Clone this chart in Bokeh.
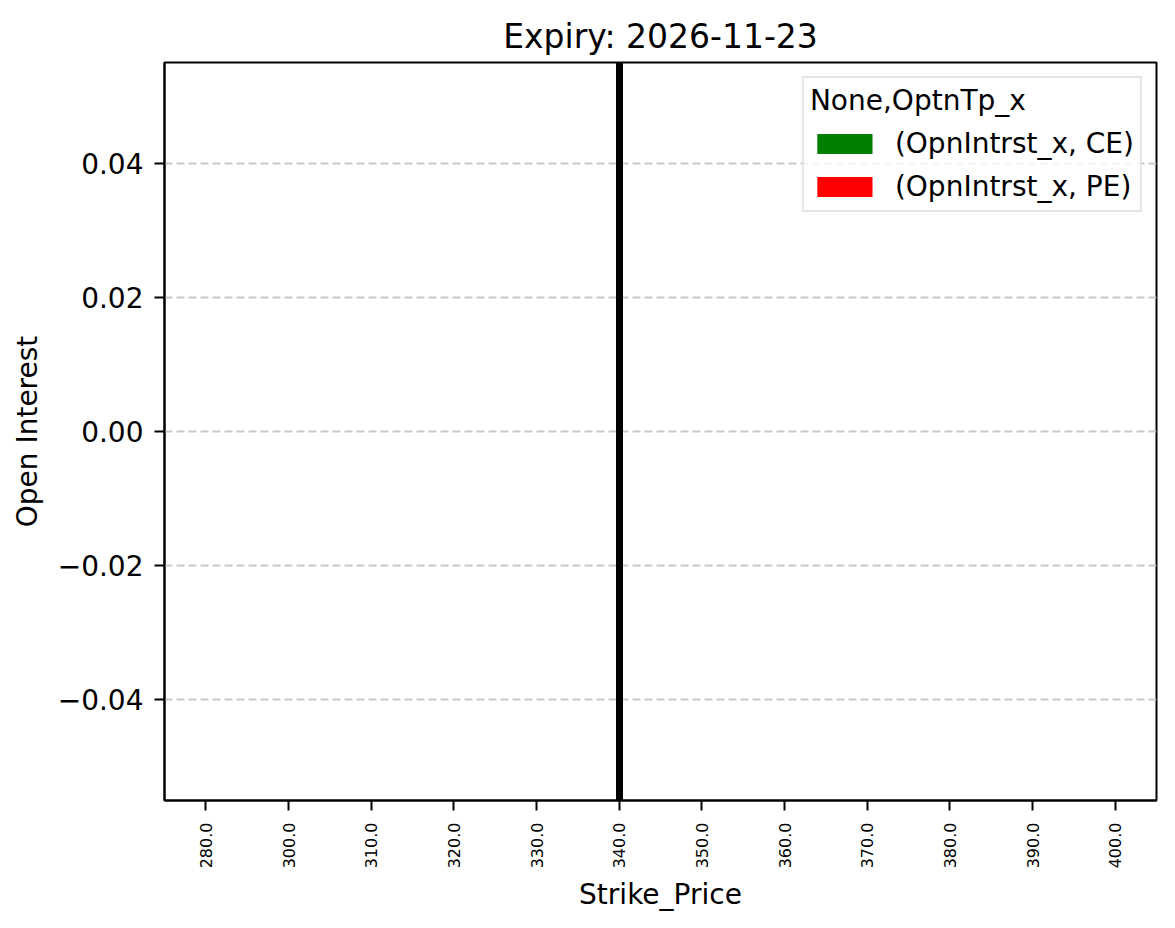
from bokeh.plotting import figure
from bokeh.models import (FactorRange, Range1d, FixedTicker, CustomJSTickFormatter,
                          Legend, LegendItem, ColumnDataSource)
from bokeh.transform import dodge
from bokeh.embed import file_html
from bokeh.resources import INLINE
import math

# ---- data ----
strikes = ["280.0", "300.0", "310.0", "320.0", "330.0", "340.0",
           "350.0", "360.0", "370.0", "380.0", "390.0", "400.0"]
oi_ce = [0, 0, 0, 0, 0, 0, 0, 0, 0, 0, 0, 0]
oi_pe = [0, 0, 0, 0, 0, 0, 0, 0, 0, 0, 0, 0]
atm_strike = "340.0"
y_ticks = [-0.04, -0.02, 0.0, 0.02, 0.04]
title_text = "Expiry: 2026-11-23"
legend_title = "None,OptnTp_x"
series_labels = ["(OpnIntrst_x, CE)", "(OpnIntrst_x, PE)"]

FONT = "DejaVu Sans"

src = ColumnDataSource(dict(strike=strikes, ce=oi_ce, pe=oi_pe))

p = figure(x_range=FactorRange(*strikes), y_range=Range1d(-0.055, 0.055),
           frame_width=992, frame_height=738,
           min_border_left=164, min_border_top=62, min_border_right=4,
           min_border_bottom=110,
           output_backend="svg", toolbar_location=None)

r_ce = p.vbar(x=dodge("strike", -0.125, range=p.x_range), top="ce", bottom=0,
              width=0.25, source=src, fill_color="green", line_color=None)
r_pe = p.vbar(x=dodge("strike", 0.125, range=p.x_range), top="pe", bottom=0,
              width=0.25, source=src, fill_color="red", line_color=None)

p.vspan(x=[atm_strike], line_color="black", line_width=7)

# title
p.title.text = title_text
p.title.align = "center"
p.title.text_font = FONT
p.title.text_font_size = "33px"
p.title.text_font_style = "normal"
p.title.text_color = "black"
p.title.standoff = 14

# outline
p.outline_line_color = "black"
p.outline_line_width = 2

# grids
p.xgrid.grid_line_color = None
p.ygrid.grid_line_color = "#c8c8c8"
p.ygrid.grid_line_dash = "8 4"
p.ygrid.grid_line_width = 2
p.ygrid.ticker = FixedTicker(ticks=y_ticks)

# y axis
p.yaxis.ticker = FixedTicker(ticks=y_ticks)
p.yaxis.formatter = CustomJSTickFormatter(
    code="return (tick < 0 ? '\u2212' : '') + Math.abs(tick).toFixed(2);")
p.yaxis.axis_label = "Open Interest"

# x axis
p.xaxis.axis_label = "Strike_Price"
p.xaxis.major_label_orientation = math.pi / 2
p.xaxis.major_label_text_font_size = "16px"
p.xaxis.group_text_font_size = "16px"

for ax in (p.xaxis[0], p.yaxis[0]):
    ax.axis_line_color = "black"
    ax.axis_line_width = 2
    ax.major_tick_line_color = "black"
    ax.major_tick_line_width = 2
    ax.major_tick_out = 10
    ax.major_tick_in = 0
    ax.minor_tick_line_color = None
    ax.major_label_text_font = FONT
    ax.major_label_text_color = "black"
    ax.axis_label_text_font = FONT
    ax.axis_label_text_font_size = "28px"
    ax.axis_label_text_font_style = "normal"
    ax.axis_label_text_color = "black"
p.yaxis.major_label_text_font_size = "28px"
p.yaxis.major_label_standoff = 11
p.xaxis.major_label_standoff = 12
p.xaxis.axis_label_standoff = 7
p.yaxis.axis_label_standoff = 11

legend = Legend(items=[LegendItem(label=series_labels[0], renderers=[r_ce]),
                       LegendItem(label=series_labels[1], renderers=[r_pe])],
                location="top_right", title=legend_title)
legend.title_text_font = FONT
legend.title_text_font_size = "28px"
legend.title_text_font_style = "normal"
legend.title_text_color = "black"
legend.title_text_align = "center"
legend.title_standoff = 8
legend.label_text_font = FONT
legend.label_text_font_size = "28px"
legend.label_text_color = "black"
legend.glyph_width = 69
legend.glyph_height = 25
legend.label_height = 36
legend.spacing = 7
legend.label_standoff = 16
legend.padding = 6
legend.margin = 14
legend.border_line_color = "#cccccc"
legend.border_line_width = 2
legend.background_fill_color = "white"
legend.background_fill_alpha = 0.8
p.add_layout(legend)

open("out.html", "w").write(file_html(p, INLINE))
